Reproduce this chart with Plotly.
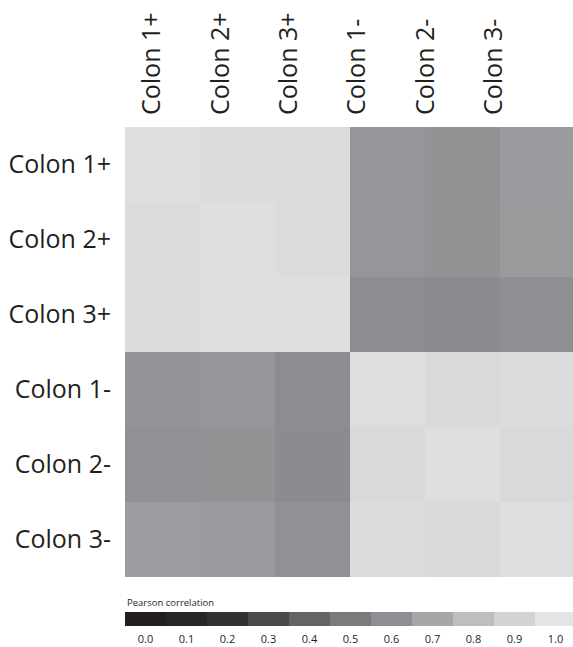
import plotly.graph_objects as go

labels = ["Colon 1+", "Colon 2+", "Colon 3+", "Colon 1-", "Colon 2-", "Colon 3-"]

corr = [
    [0.970, 0.955, 0.955, 0.630, 0.615, 0.655],
    [0.955, 0.970, 0.955, 0.630, 0.615, 0.645],
    [0.955, 0.965, 0.972, 0.590, 0.585, 0.605],
    [0.620, 0.630, 0.590, 0.965, 0.935, 0.955],
    [0.610, 0.615, 0.585, 0.935, 0.965, 0.935],
    [0.660, 0.650, 0.610, 0.955, 0.940, 0.970],
]

scale_values = [0.0, 0.1, 0.2, 0.3, 0.4, 0.5, 0.6, 0.7, 0.8, 0.9, 1.0]
scale_labels = ["0.0", "0.1", "0.2", "0.3", "0.4", "0.5", "0.6", "0.7", "0.8", "0.9", "1.0"]
scale_colors = ["#231f20", "#282526", "#333233", "#4a4a4c", "#646466", "#7b7b7e",
                "#8e8f92", "#a6a7a9", "#bdbec0", "#d2d3d5", "#e3e4e6"]

colorscale = [[v, c] for v, c in zip(scale_values, scale_colors)]
n = len(labels)
idx = list(range(n))

FONT = "Open Sans"
TXT = "#231f20"

fig = go.Figure()
fig.add_trace(go.Heatmap(z=corr, x=idx, y=idx, colorscale=colorscale, zmin=0, zmax=1,
                         showscale=False, xaxis="x", yaxis="y", hoverinfo="z"))
fig.add_trace(go.Heatmap(z=[scale_values], x=list(range(len(scale_values))), y=[0],
                         colorscale=colorscale, zmin=0, zmax=1, showscale=False,
                         xaxis="x2", yaxis="y2", hoverinfo="z"))

W, H = 573, 647
xdom = [125 / W, 1.0]
fig.update_layout(
    width=W, height=H,
    margin=dict(l=0, r=0, t=0, b=0),
    paper_bgcolor="white", plot_bgcolor="white",
    font=dict(family=FONT, color=TXT),
    showlegend=False,
    xaxis=dict(domain=xdom, anchor="y", range=[-0.5, -0.5 + 448 / 75],
               showticklabels=False, showgrid=False, zeroline=False, ticks=""),
    yaxis=dict(domain=[1 - 577 / H, 1 - 127 / H], anchor="x", range=[5.5, -0.5],
               tickmode="array", tickvals=idx, ticktext=labels,
               tickfont=dict(size=25, family=FONT, color=TXT),
               showgrid=False, zeroline=False, ticks="", ticklabelstandoff=13),
    xaxis3=dict(domain=xdom, anchor="y", overlaying="x", side="top",
                range=[-27 / 68.4, -27 / 68.4 + 448 / 68.4],
                tickmode="array", tickvals=idx, ticktext=labels, tickangle=-90,
                tickfont=dict(size=25, family=FONT, color=TXT),
                showgrid=False, zeroline=False, ticks="", ticklabelstandoff=11),
    xaxis2=dict(domain=xdom, anchor="y2", range=[-0.5, -0.5 + 448 / 41],
                tickmode="array", tickvals=list(range(len(scale_values))), ticktext=scale_labels,
                tickfont=dict(size=11, family=FONT, color=TXT),
                showgrid=False, zeroline=False, ticks="", ticklabelstandoff=5),
    yaxis2=dict(domain=[1 - 626 / H, 1 - 612 / H], anchor="x2", range=[-0.5, 0.5],
                showticklabels=False, showgrid=False, zeroline=False, ticks=""),
    annotations=[dict(text="Pearson correlation", xref="paper", yref="paper",
                      x=125 / W, y=1 - 602 / H, xanchor="left", yanchor="middle",
                      showarrow=False, font=dict(size=9.5, family=FONT, color=TXT))],
)

# invisible helper trace so the top label axis is rendered
fig.add_trace(go.Scatter(x=idx, y=idx, xaxis="x3", yaxis="y", mode="none",
                         hoverinfo="skip", showlegend=False))

fig.write_html("out.html", config={"displayModeBar": False},
               post_script="document.body.style.margin='0';document.body.style.overflow='hidden';")
